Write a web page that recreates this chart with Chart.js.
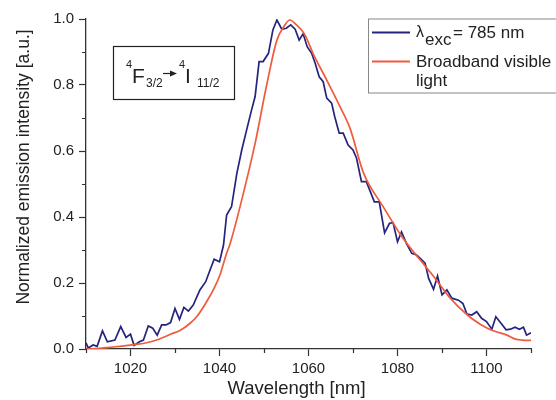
<!DOCTYPE html>
<html>
<head>
<meta charset="utf-8">
<script src="https://cdn.jsdelivr.net/npm/chart.js@4.4.0/dist/chart.umd.min.js"></script>
<style>
  html, body { margin: 0; padding: 0; background: #fff; }
  #wrap { width: 556px; height: 400px; }
</style>
</head>
<body>
<div id="wrap"><canvas id="myChart" width="556" height="400"></canvas></div>
<script>
// emission under 785 nm excitation (noisy, dark blue)
const laserWavelength = [
  1010, 1010.5, 1011.6, 1012.5, 1013.7, 1014.8, 1016.5, 1017.8, 1019, 1020,
  1020.8, 1022, 1022.9, 1024, 1025, 1026, 1027, 1028, 1029, 1030,
  1031, 1032, 1033, 1034.1, 1035.6, 1036.9, 1038, 1038.8, 1040, 1040.9,
  1041.6, 1042.7, 1043.9, 1045, 1046.1, 1047.2, 1048, 1048.9, 1049.8, 1051,
  1052, 1052.9, 1054, 1055, 1056, 1057, 1057.9, 1058.8, 1059.7, 1060.7,
  1061.5, 1062.4, 1063.3, 1064.1, 1065.2, 1065.9, 1066.9, 1067.8, 1068.9, 1070,
  1070.8, 1071.9, 1073, 1074.8, 1075.9, 1077.1, 1078.2, 1079, 1080, 1080.9,
  1082, 1083.2, 1084.3, 1085.1, 1086.2, 1087, 1088.1, 1089, 1090, 1091.1,
  1092.2, 1093.7, 1094.7, 1095.6, 1096.7, 1097.8, 1098.9, 1100, 1101.2, 1102.1,
  1103.4, 1104.4, 1105.4, 1106.4, 1107.4, 1108.3, 1109, 1110
];
const laserIntensity = [
  0.019, 0.003, 0.012, 0.008, 0.055, 0.022, 0.027, 0.068, 0.035, 0.045,
  0.011, 0.022, 0.027, 0.070, 0.063, 0.042, 0.073, 0.073, 0.080, 0.123,
  0.090, 0.126, 0.115, 0.133, 0.179, 0.204, 0.244, 0.272, 0.264, 0.315,
  0.406, 0.431, 0.532, 0.603, 0.664, 0.724, 0.765, 0.871, 0.871, 0.896,
  0.967, 0.997, 0.969, 0.972, 0.982, 0.969, 0.936, 0.955, 0.916, 0.896,
  0.866, 0.825, 0.810, 0.760, 0.745, 0.704, 0.654, 0.654, 0.618, 0.603,
  0.578, 0.507, 0.507, 0.446, 0.446, 0.352, 0.381, 0.383, 0.325, 0.355,
  0.320, 0.290, 0.285, 0.275, 0.260, 0.214, 0.181, 0.221, 0.164, 0.179,
  0.154, 0.148, 0.138, 0.106, 0.103, 0.113, 0.093, 0.083, 0.060, 0.098,
  0.076, 0.058, 0.060, 0.066, 0.060, 0.066, 0.042, 0.049
];

// emission under broadband visible light (smooth, orange-red)
const lampWavelength = [
  1010, 1013, 1016, 1020, 1023.6, 1026, 1029.6, 1031, 1033.4, 1035,
  1037.1, 1039, 1040.1, 1041.6, 1042.4, 1045, 1048, 1050.6, 1052.9, 1054.7,
  1055.8, 1057.3, 1059.2, 1061, 1064.1, 1067.1, 1069.3, 1072.4, 1076.7, 1081,
  1085.2, 1088, 1091.6, 1095.7, 1098.6, 1100.2, 1102, 1104.6, 1106.5, 1108, 1110
];
const lampIntensity = [
  0.000, 0.002, 0.006, 0.012, 0.019, 0.028, 0.048, 0.055, 0.078, 0.100,
  0.143, 0.190, 0.224, 0.290, 0.320, 0.452, 0.623, 0.800, 0.936, 0.982,
  0.997, 0.982, 0.952, 0.896, 0.815, 0.734, 0.670, 0.532, 0.433, 0.340,
  0.268, 0.222, 0.158, 0.103, 0.075, 0.063, 0.053, 0.042, 0.030, 0.027, 0.026
];

const seriesColors = ["#24247e", "#ef5b3d"];
const xRange = [1010, 1110];
const yRange = [0, 1];
const xLabelStep = 20;
const xTickStep = 10;
const yTickStep = 0.1;

const FONT = "'Liberation Sans', Arial, sans-serif";
const INK = "#222";
const AXIS = "#333";

function isMajorX(v) { return Math.round(v) % xLabelStep === 0; }
function isMajorY(v) { return Math.round(v * 10) % 2 === 0; }

function toPoints(xs, ys) {
  return xs.map((x, i) => ({ x: x, y: ys[i] }));
}

const decorations = {
  id: "decorations",
  afterDraw(chart) {
    const { ctx, chartArea: a, scales } = chart;
    ctx.save();

    // minor ticks
    ctx.strokeStyle = AXIS;
    ctx.lineWidth = 1.2;
    ctx.beginPath();
    scales.x.ticks.forEach(t => {
      if (isMajorX(t.value)) return;
      const px = Math.round(scales.x.getPixelForValue(t.value)) + 0.5;
      ctx.moveTo(px, a.bottom);
      ctx.lineTo(px, a.bottom + 4);
    });
    scales.y.ticks.forEach(t => {
      if (isMajorY(t.value)) return;
      const py = Math.round(scales.y.getPixelForValue(t.value)) + 0.5;
      ctx.moveTo(a.left - 4, py);
      ctx.lineTo(a.left, py);
    });
    ctx.stroke();

    // axis titles
    ctx.fillStyle = INK;
    ctx.textAlign = "center";
    ctx.textBaseline = "middle";
    ctx.font = "18.5px " + FONT;
    ctx.fillText("Wavelength [nm]", (a.left + a.right) / 2 - 12, 389);
    ctx.save();
    ctx.translate(24, (a.top + a.bottom) / 2 - 17);
    ctx.rotate(-Math.PI / 2);
    ctx.font = "17.5px " + FONT;
    ctx.fillText("Normalized emission intensity [a.u.]", 0, 0);
    ctx.restore();

    // transition label box
    const bx = a.left + 27, by = a.top + 27;
    ctx.strokeStyle = "#222";
    ctx.lineWidth = 1.2;
    ctx.strokeRect(bx + 0.5, by + 0.5, 121, 53);
    ctx.textAlign = "left";
    ctx.textBaseline = "alphabetic";
    ctx.font = "11px " + FONT;
    ctx.fillText("4", bx + 13, by + 22);
    ctx.font = "21px " + FONT;
    ctx.fillText("F", bx + 19, by + 37);
    ctx.font = "12px " + FONT;
    ctx.fillText("3/2", bx + 33, by + 41);
    // arrow
    ctx.beginPath();
    ctx.moveTo(bx + 50, by + 27.5);
    ctx.lineTo(bx + 59, by + 27.5);
    ctx.stroke();
    ctx.beginPath();
    ctx.moveTo(bx + 64, by + 27.5);
    ctx.lineTo(bx + 57, by + 24.5);
    ctx.lineTo(bx + 57, by + 30.5);
    ctx.closePath();
    ctx.fill();
    ctx.font = "11px " + FONT;
    ctx.fillText("4", bx + 66, by + 22);
    ctx.font = "21px " + FONT;
    ctx.fillText("I", bx + 72, by + 37);
    ctx.font = "12px " + FONT;
    ctx.fillText("11/2", bx + 84, by + 41);

    // legend
    const lx = a.right - 163, ly = a.top - 0.5;
    ctx.strokeStyle = "#888";
    ctx.lineWidth = 1;
    ctx.strokeRect(lx + 0.5, ly + 0.5, 220, 74);
    ctx.lineWidth = 1.8;
    ctx.strokeStyle = seriesColors[0];
    ctx.beginPath();
    ctx.moveTo(lx + 4, ly + 14);
    ctx.lineTo(lx + 42, ly + 14);
    ctx.stroke();
    ctx.strokeStyle = seriesColors[1];
    ctx.beginPath();
    ctx.moveTo(lx + 4, ly + 43);
    ctx.lineTo(lx + 42, ly + 43);
    ctx.stroke();
    ctx.fillStyle = INK;
    ctx.font = "16px " + FONT;
    ctx.fillText("λ", lx + 48, ly + 18);
    ctx.font = "17px " + FONT;
    ctx.fillText("exc", lx + 57, ly + 26.5);
    ctx.fillText("= 785 nm", lx + 85, ly + 19);
    ctx.fillText("Broadband visible", lx + 48, ly + 48);
    ctx.fillText("light", lx + 48, ly + 67);

    ctx.restore();
  }
};

new Chart(document.getElementById("myChart"), {
  type: "line",
  data: {
    datasets: [
      {
        label: "λexc= 785 nm",
        data: toPoints(laserWavelength, laserIntensity),
        borderColor: seriesColors[0],
        borderWidth: 1.7,
        pointRadius: 0,
        tension: 0,
        order: 1
      },
      {
        label: "Broadband visible light",
        data: toPoints(lampWavelength, lampIntensity),
        borderColor: seriesColors[1],
        borderWidth: 1.7,
        pointRadius: 0,
        cubicInterpolationMode: "monotone",
        order: 0
      }
    ]
  },
  options: {
    responsive: false,
    animation: false,
    layout: { padding: { top: 19, right: 25, left: 0, bottom: 0 } },
    plugins: {
      legend: { display: false },
      tooltip: { enabled: false }
    },
    scales: {
      x: {
        type: "linear",
        min: xRange[0],
        max: xRange[1],
        afterFit(scale) { scale.height = 51; },
        border: { display: true, color: AXIS, width: 1.3 },
        grid: {
          drawOnChartArea: false,
          tickLength: 7,
          tickWidth: 1.2,
          tickColor: c => (c.tick && isMajorX(c.tick.value) ? AXIS : "rgba(0,0,0,0)")
        },
        ticks: {
          stepSize: xTickStep,
          autoSkip: false,
          maxRotation: 0,
          padding: 4,
          color: INK,
          font: { family: FONT, size: 15 },
          callback: v => (isMajorX(v) && v !== xRange[0] && v !== xRange[1] ? String(v) : "")
        }
      },
      y: {
        min: yRange[0],
        max: yRange[1],
        afterFit(scale) { scale.width = 86; },
        border: { display: true, color: AXIS, width: 1.3 },
        grid: {
          drawOnChartArea: false,
          tickLength: 7,
          tickWidth: 1.2,
          tickColor: c => (c.tick && isMajorY(c.tick.value) ? AXIS : "rgba(0,0,0,0)")
        },
        ticks: {
          stepSize: yTickStep,
          autoSkip: false,
          padding: 5,
          color: INK,
          font: { family: FONT, size: 15 },
          callback: v => (isMajorY(v) ? v.toFixed(1) : "")
        }
      }
    }
  },
  plugins: [decorations]
});
</script>
</body>
</html>
